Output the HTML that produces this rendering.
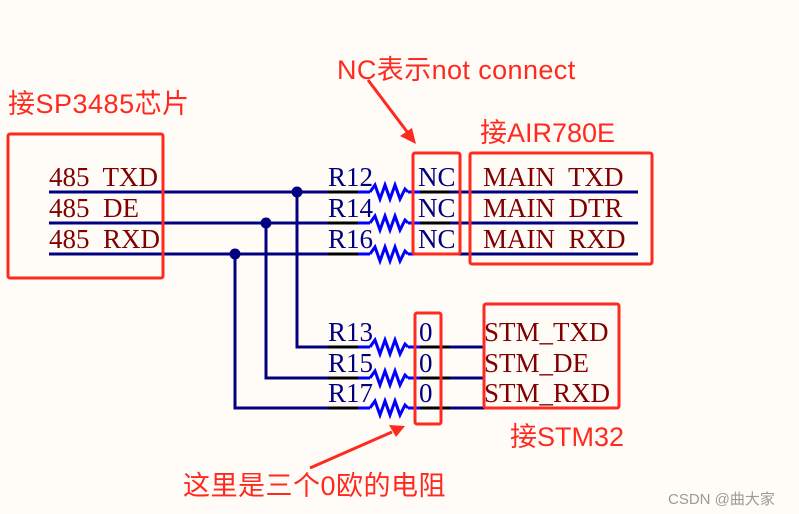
<!DOCTYPE html>
<html><head><meta charset="utf-8"><style>
html,body{margin:0;padding:0;background:#fffcf8;}
svg{display:block}
.s{font-family:"Liberation Serif",serif;font-size:27px;}
.c{font-family:"Liberation Sans","Noto Sans CJK SC",sans-serif;fill:#ff2a1f;font-size:27px;}
</style></head><body>
<svg width="799" height="514" xmlns="http://www.w3.org/2000/svg">
<rect width="799" height="514" fill="#fffcf8"/>
<g stroke="#000080" stroke-width="3" fill="none">
<line x1="49" y1="192" x2="370" y2="192"/>
<line x1="49" y1="223" x2="370" y2="223"/>
<line x1="49" y1="254" x2="370" y2="254"/>
<line x1="410" y1="192" x2="638" y2="192"/>
<line x1="410" y1="223" x2="638" y2="223"/>
<line x1="410" y1="254" x2="638" y2="254"/>
<polyline points="297,192 297,347 370,347"/>
<polyline points="266,223 266,378 370,378"/>
<polyline points="235,254 235,408 370,408"/>
<line x1="410" y1="347" x2="485" y2="347"/>
<line x1="410" y1="378" x2="485" y2="378"/>
<line x1="410" y1="408" x2="485" y2="408"/>
</g>
<g fill="#000080">
<circle cx="297" cy="192" r="5.5"/><circle cx="266" cy="223" r="5.5"/><circle cx="235" cy="254" r="5.5"/>
</g>
<g stroke="#000" stroke-width="3">
<line x1="328" y1="192" x2="358" y2="192"/><line x1="420" y1="192" x2="450" y2="192"/>
<line x1="328" y1="223" x2="358" y2="223"/><line x1="420" y1="223" x2="450" y2="223"/>
<line x1="328" y1="254" x2="358" y2="254"/><line x1="420" y1="254" x2="450" y2="254"/>
<line x1="328" y1="347" x2="358" y2="347"/><line x1="420" y1="347" x2="450" y2="347"/>
<line x1="328" y1="378" x2="358" y2="378"/><line x1="420" y1="378" x2="450" y2="378"/>
<line x1="328" y1="408" x2="358" y2="408"/><line x1="420" y1="408" x2="450" y2="408"/>
</g>
<g stroke="#0000ff" stroke-width="3" fill="none">
<line x1="358" y1="192" x2="370" y2="192"/><line x1="408" y1="192" x2="420" y2="192"/>
<line x1="358" y1="223" x2="370" y2="223"/><line x1="408" y1="223" x2="420" y2="223"/>
<line x1="358" y1="254" x2="370" y2="254"/><line x1="408" y1="254" x2="420" y2="254"/>
<line x1="358" y1="347" x2="370" y2="347"/><line x1="408" y1="347" x2="420" y2="347"/>
<line x1="358" y1="378" x2="370" y2="378"/><line x1="408" y1="378" x2="420" y2="378"/>
<line x1="358" y1="408" x2="370" y2="408"/><line x1="408" y1="408" x2="420" y2="408"/>
<polyline transform="translate(0,192)" points="370,0 375,-7 380,7 385,-7 390,7 395,-7 400,7 405,-3 408,0"/>
<polyline transform="translate(0,223)" points="370,0 375,-7 380,7 385,-7 390,7 395,-7 400,7 405,-3 408,0"/>
<polyline transform="translate(0,254)" points="370,0 375,-7 380,7 385,-7 390,7 395,-7 400,7 405,-3 408,0"/>
<polyline transform="translate(0,347)" points="370,0 375,-7 380,7 385,-7 390,7 395,-7 400,7 405,-3 408,0"/>
<polyline transform="translate(0,378)" points="370,0 375,-7 380,7 385,-7 390,7 395,-7 400,7 405,-3 408,0"/>
<polyline transform="translate(0,408)" points="370,0 375,-7 380,7 385,-7 390,7 395,-7 400,7 405,-3 408,0"/>
</g>
<g class="s" fill="#800000">
<text x="49" y="186" xml:space="preserve">485  TXD</text>
<text x="49" y="217" xml:space="preserve">485  DE</text>
<text x="49" y="248" xml:space="preserve">485  RXD</text>
<text x="483" y="186" xml:space="preserve">MAIN  TXD</text>
<text x="483" y="217" xml:space="preserve">MAIN  DTR</text>
<text x="483" y="248" xml:space="preserve">MAIN  RXD</text>
<text x="484" y="341">STM_TXD</text>
<text x="484" y="372">STM_DE</text>
<text x="484" y="402">STM_RXD</text>
</g>
<g class="s" fill="#000080">
<text x="328" y="186">R12</text><text x="328" y="217">R14</text><text x="328" y="248">R16</text>
<text x="328" y="341">R13</text><text x="328" y="372">R15</text><text x="328" y="402">R17</text>
<text x="418" y="186">NC</text><text x="418" y="217">NC</text><text x="418" y="248">NC</text>
<text x="419" y="341">0</text><text x="419" y="372">0</text><text x="419" y="402">0</text>
</g>
<g stroke="#ff2a1f" stroke-width="3" fill="none">
<rect x="8" y="134" width="155" height="144" rx="2"/>
<rect x="413" y="153" width="47" height="101" rx="2"/>
<rect x="470" y="153" width="182" height="111" rx="2"/>
<rect x="415" y="313" width="26" height="111" rx="2"/>
<rect x="484" y="304" width="135" height="104" rx="2"/>
<line x1="368" y1="80" x2="408" y2="133"/>
<line x1="310" y1="468" x2="392" y2="432"/>
</g>
<polygon points="416,144 400,136 412,128" fill="#ff2a1f"/>
<polygon points="405,426 389,425 396,437" fill="#ff2a1f"/>
<text class="c" x="8" y="113" letter-spacing="0.5">接SP3485芯片</text>
<text class="c" x="337" y="79" letter-spacing="0.4">NC表示not connect</text>
<text class="c" x="480" y="142">接AIR780E</text>
<text class="c" x="510" y="446">接STM32</text>
<text class="c" x="183" y="495" font-size="25" letter-spacing="0.5">这里是三个0欧的电阻</text>
<text x="668" y="504" font-family="Liberation Sans,'Noto Sans CJK SC',sans-serif" font-size="15" fill="#9a9a9a">CSDN @曲大家</text>
</svg>
</body></html>
